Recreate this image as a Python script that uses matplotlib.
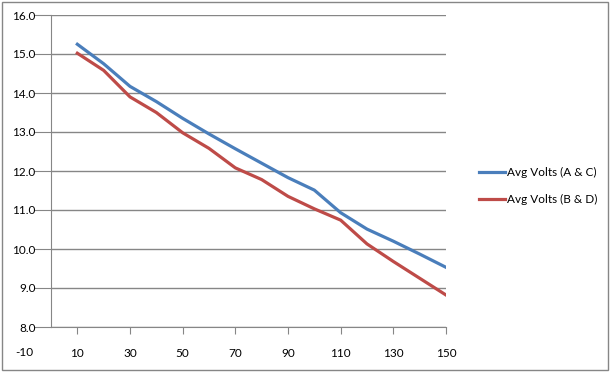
import matplotlib
matplotlib.use("Agg")
import matplotlib.pyplot as plt
from matplotlib.patches import Rectangle

# ---- data ----
x_vals = [10, 20, 30, 40, 50, 60, 70, 80, 90, 100, 110, 120, 130, 140, 150]
volts_ac = [15.25, 14.75, 14.17, 13.78, 13.35, 12.95, 12.57, 12.2, 11.83, 11.51,
            10.93, 10.51, 10.2, 9.87, 9.53]
volts_bd = [15.02, 14.58, 13.9, 13.5, 12.98, 12.58, 12.08, 11.78, 11.35, 11.03,
            10.74, 10.13, 9.68, 9.25, 8.82]
series_names = ["Avg Volts (A & C)", "Avg Volts (B & D)"]
x_ticks = [10, 30, 50, 70, 90, 110, 130, 150]
y_ticks = [8, 9, 10, 11, 12, 13, 14, 15, 16]

plt.rcParams["font.family"] = ["Lato", "DejaVu Sans"]
grey = "#868686"
fs = 8.5

fig = plt.figure(figsize=(6.13, 3.75), dpi=100)
ax = fig.add_axes([51 / 613, 48 / 375, 395 / 613, 312 / 375])

ax.plot(x_vals, volts_ac, color="#4A7EBB", lw=2.3, label=series_names[0])
ax.plot(x_vals, volts_bd, color="#BE4B48", lw=2.3, label=series_names[1])

ax.set_xlim(0, 150)
ax.set_ylim(8, 16)
ax.set_xticks(x_ticks)
ax.set_yticks(y_ticks)
ax.set_yticklabels([f"{v:.1f}" for v in y_ticks])
ax.yaxis.grid(True, color=grey, lw=1)
ax.set_axisbelow(True)

for s in ["top", "right"]:
    ax.spines[s].set_visible(False)
for s in ["left", "bottom"]:
    ax.spines[s].set_color(grey)
ax.tick_params(axis="y", length=12, color=grey, pad=-1, labelsize=fs)
ax.tick_params(axis="x", length=5, color=grey, pad=10, labelsize=fs)

# Excel puts a "-10" label left of the plotted range
ax.annotate("-10", xy=(-10, 8), xycoords="data", xytext=(0, -14.5),
            textcoords="offset points", ha="center", va="top", fontsize=fs,
            annotation_clip=False)

fig.legend(loc="center left", bbox_to_anchor=(468 / 613, 1 - 186 / 375),
           frameon=False, fontsize=fs, handlelength=2.2, labelspacing=1.3,
           handletextpad=0.2)

fig.patches.append(Rectangle((2 / 613, 5 / 375), 606 / 613, 368 / 375,
                             transform=fig.transFigure, fill=False,
                             edgecolor=grey, lw=1))

fig.savefig("out.png", dpi=100)
